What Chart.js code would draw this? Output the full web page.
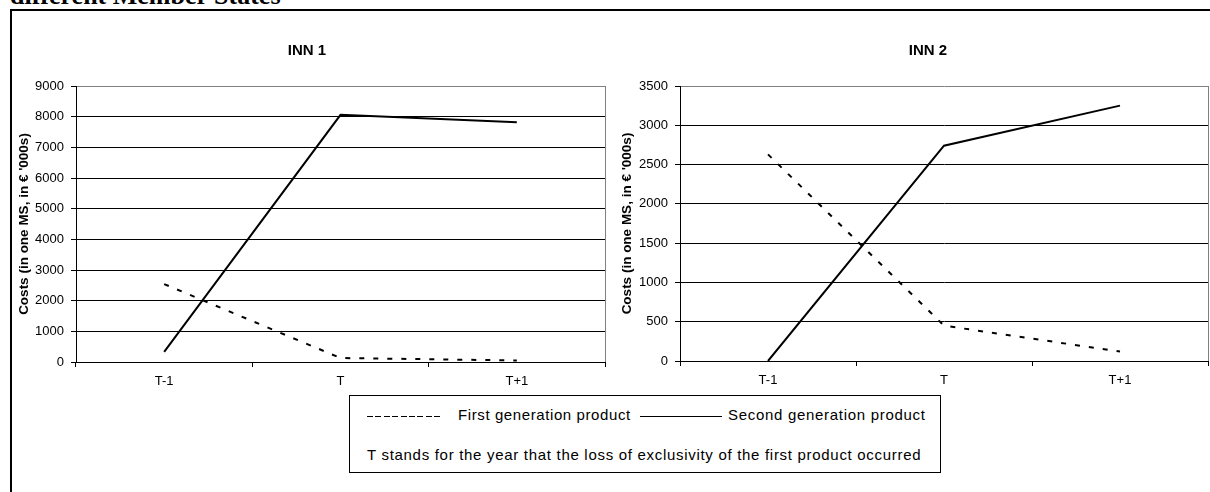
<!DOCTYPE html>
<html>
<head>
<meta charset="utf-8">
<script src="https://cdn.jsdelivr.net/npm/chart.js@4.4.0/dist/chart.umd.min.js"></script>
<style>
  body { margin: 0; background: #fff; width: 1210px; height: 492px; overflow: hidden; position: relative;
         font-family: 'Liberation Sans', Arial, sans-serif; color: #000; }
  #heading { position: absolute; left: 10px; top: -17px; font: bold 26px/26px 'Liberation Serif', 'Times New Roman', serif; white-space: nowrap; }
  #frame { position: absolute; left: 10px; top: 9px; width: 1400px; height: 700px; border: 2px solid #000; }
  canvas { position: absolute; top: 0; }
  #chart1 { left: 0; }
  #chart2 { left: 612px; }
  .chartTitle { position: absolute; top: 42px; width: 100px; text-align: center; font: bold 15px/15px 'Liberation Sans', Arial, sans-serif; }
  #legendBox { position: absolute; left: 349px; top: 395px; width: 590px; height: 76px; border: 1px solid #000; }
  .legText { position: absolute; font-size: 15px; line-height: 15px; letter-spacing: 0.7px; white-space: nowrap; }
  #dashSample { position: absolute; left: 367px; top: 416px; width: 73px; height: 1px;
                background: repeating-linear-gradient(to right, #000 0 6px, transparent 6px 8.4px); }
  #solidSample { position: absolute; left: 640px; top: 416px; width: 82px; height: 1px; background: #000; }
</style>
</head>
<body>
<div id="heading">different Member States</div>
<div id="frame"></div>
<canvas id="chart1" width="612" height="392"></canvas>
<canvas id="chart2" width="598" height="391"></canvas>
<div class="chartTitle" id="title1" style="left:257px"></div>
<div class="chartTitle" id="title2" style="left:878px"></div>
<div id="legendBox"></div>
<div id="dashSample"></div>
<span class="legText" id="leg1" style="left:458px; top:407px; letter-spacing:0.6px"></span>
<div id="solidSample"></div>
<span class="legText" id="leg2" style="left:728px; top:407px"></span>
<span class="legText" id="note" style="left:367px; top:447px"></span>
<script>
'use strict'

// data
let categories = ['T-1', 'T', 'T+1'];
let seriesNames = ['First generation product', 'Second generation product'];
let chartTitles = ['INN 1', 'INN 2'];
let yAxisTitle = "Costs (in one MS, in € '000s)";
let noteText = 'T stands for the year that the loss of exclusivity of the first product occurred';

let inn1First = [2540, 130, 50];
let inn1Second = [330, 8060, 7820];
let inn2First = [2630, 450, 120];
let inn2Second = [0, 2740, 3250];

let inn1Max = 9000;
let inn1Step = 1000;
let inn2Max = 3500;
let inn2Step = 500;

Chart.defaults.font.family = "'Liberation Sans', Arial, sans-serif";
Chart.defaults.color = '#000';

document.getElementById('title1').textContent = chartTitles[0];
document.getElementById('title2').textContent = chartTitles[1];
document.getElementById('leg1').textContent = seriesNames[0];
document.getElementById('leg2').textContent = seriesNames[1];
document.getElementById('note').textContent = noteText;

function drawChart(canvasId, first, second, yMax, yStep, padLeft, padRight, axisWidth) {
    let ctx = document.getElementById(canvasId).getContext('2d');
    return new Chart(ctx, {
        type: 'line',
        data: {
            labels: categories,
            datasets: [{
                label: seriesNames[0],
                data: first,
                borderColor: '#000',
                borderWidth: 2,
                borderDash: [5, 9],
                pointRadius: 0,
                fill: false
            }, {
                label: seriesNames[1],
                data: second,
                borderColor: '#000',
                borderWidth: 2,
                pointRadius: 0,
                fill: false
            }]
        },
        options: {
            responsive: false,
            animation: false,
            layout: { padding: { top: 86, left: padLeft, right: padRight, bottom: 0 } },
            plugins: {
                legend: { display: false },
                tooltip: { enabled: false }
            },
            scales: {
                x: {
                    offset: true,
                    grid: {
                        offset: true,
                        // only the right edge of the plot area is drawn, in grey
                        color: (c) => c.type === 'tick' ? 'rgba(0,0,0,0)' : '#808080',
                        tickColor: '#000',
                        tickLength: 5
                    },
                    border: { color: '#000', width: 1 },
                    ticks: { color: '#000', font: { size: 13 }, padding: 7, maxRotation: 0 },
                    afterFit: (scale) => { scale.height = 30; }
                },
                y: {
                    min: 0,
                    max: yMax,
                    ticks: {
                        stepSize: yStep,
                        color: '#000',
                        font: { size: 13 },
                        padding: 7,
                        callback: (v) => String(v)
                    },
                    grid: {
                        color: (c) => (c.tick && c.tick.value === yMax) ? '#808080' : '#000',
                        tickColor: '#000',
                        tickLength: 5
                    },
                    border: { color: '#000', width: 1 },
                    title: {
                        display: true,
                        text: yAxisTitle,
                        color: '#000',
                        font: { size: 13.5, weight: 'bold' },
                        padding: { top: 7, bottom: 0 }
                    },
                    afterFit: (scale) => { scale.width = axisWidth; }
                }
            }
        }
    });
}

drawChart('chart1', inn1First, inn1Second, inn1Max, inn1Step, 9, 7, 67);
drawChart('chart2', inn2First, inn2Second, inn2Max, inn2Step, 0, 2, 68);
</script>
</body>
</html>
